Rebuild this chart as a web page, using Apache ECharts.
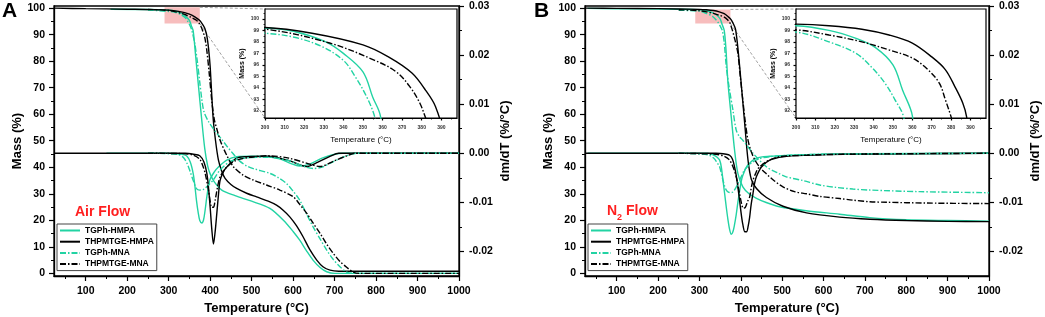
<!DOCTYPE html>
<html>
<head>
<meta charset="utf-8">
<script src="https://cdn.jsdelivr.net/npm/echarts@6/dist/echarts.min.js"></script>
<style>
html, body { margin: 0; padding: 0; background: #fff; }
#chart { width: 1045px; height: 317px; }
</style>
</head>
<body>
<div id="chart"></div>
<script>
// ---- data (temperature in °C, mass in %, dm/dT in %/°C) ----
var seriesNames = ['TGPh-HMPA', 'THPMTGE-HMPA', 'TGPh-MNA', 'THPMTGE-MNA'];

var tempTicks = [100, 200, 300, 400, 500, 600, 700, 800, 900, 1000];
var massTicks = [0, 10, 20, 30, 40, 50, 60, 70, 80, 90, 100];
var dtgTicks = [-0.02, -0.01, 0, 0.01, 0.02, 0.03];
var insetTempTicks = [300, 310, 320, 330, 340, 350, 360, 370, 380, 390];
var insetMassTicks = [92, 93, 94, 95, 96, 97, 98, 99, 100];

// zoomed region shown in the insets: [tStart, tEnd, massLow, massHigh]
var airZoomBox = [290, 375, 94.2, 100.3];
var n2ZoomBox = [290, 375, 94.2, 99.5];

// A: air flow, TG curves
var airTgTGPhHMPA = [[160,99.6],[250,99.5],[300,99.2],[315,98.9],[331,98.0],[340,97.0],[350,95.4],[355,93.2],[359,91.5],[365,82],[371,72],[379,59],[387,47],[394,40.5],[400,37.5],[410,34.5],[428,31.4],[460,29.3],[500,27.2],[544,24.5],[576,20.1],[600,15.8],[616,12.5],[632,8.6],[648,5],[665,2.2],[681,0.6],[700,0],[1000,0]];
var airTgTHPMTGEHMPA = [[25,100],[100,99.8],[200,99.6],[300,99.24],[324,98.75],[350,97.74],[363,96.7],[375,95.3],[382,93.8],[387,92.4],[392,89.5],[396,85],[400,78],[407,59],[413,50],[420,42.7],[428,38.5],[436,35.8],[450,33.5],[464,32],[488,30.2],[512,28.8],[540,27.2],[560,25.7],[576,23.8],[592,21.3],[608,18],[624,13.8],[640,9],[657,5],[672,2.5],[689,1.2],[710,0.8],[1000,0.8]];
var airTgTGPhMNA = [[250,99.3],[300,98.75],[315,98.4],[329,97.6],[340,96.4],[346,95],[352,93.2],[356,91.5],[363,86.5],[369,80],[375,72],[380,65.5],[385,61],[395,57.5],[410,54],[416,52.8],[428,50.5],[440,48],[456,45],[470,42.5],[488,40.5],[504,39.5],[544,37.7],[565,36],[584,33.9],[600,31],[616,27.6],[632,22.5],[648,17.6],[665,13],[681,8.8],[697,5.2],[713,2.5],[729,0.5],[745,0],[1000,0]];
var airTgTHPMTGEMNA = [[250,99.5],[300,99.1],[333,97.9],[356,96.4],[367,95.4],[374,94.1],[379,92.7],[382,91.4],[387,89],[392,84],[398,75],[404,65],[410,58],[416,54.5],[424,50.2],[440,44.5],[456,40.2],[480,37],[504,35.2],[536,33.3],[568,31.4],[600,28.9],[616,26],[633,22.6],[648,19],[665,15.1],[681,11],[697,7.5],[713,4.5],[729,2.3],[745,0.5],[760,0],[1000,0]];

// A: air flow, DTG curves
var airDtgTGPhHMPA = [[150,0],[300,0],[330,-0.0002],[343,-0.0005],[352,-0.0018],[359,-0.0041],[363,-0.0065],[367,-0.0096],[371,-0.012],[375,-0.0137],[380,-0.0142],[384,-0.0136],[388,-0.0115],[392,-0.0089],[399,-0.0055],[410,-0.0038],[420,-0.0028],[440,-0.0014],[464,-0.0007],[500,-0.0006],[540,-0.0007],[570,-0.0012],[595,-0.0021],[615,-0.0026],[640,-0.0022],[670,-0.001],[700,-0.0002],[720,0],[1000,0]];
var airDtgTHPMTGEHMPA = [[25,0],[340,0],[360,-0.0002],[375,-0.0005],[385,-0.0018],[392,-0.0041],[396,-0.007],[400,-0.011],[404,-0.0155],[408,-0.0185],[412,-0.016],[416,-0.0123],[420,-0.0085],[424,-0.0055],[432,-0.0038],[440,-0.0028],[464,-0.001],[488,-0.0007],[540,-0.0006],[590,-0.0015],[615,-0.0023],[632,-0.0027],[660,-0.0018],[690,-0.0006],[710,0],[1000,0]];
var airDtgTGPhMNA = [[250,0],[320,-0.0002],[335,-0.0008],[345,-0.0022],[352,-0.0038],[359,-0.0055],[367,-0.0072],[375,-0.0075],[383,-0.0074],[392,-0.0068],[407,-0.0055],[424,-0.0034],[448,-0.0017],[480,-0.001],[540,-0.0008],[590,-0.0015],[630,-0.0028],[650,-0.0031],[670,-0.0028],[690,-0.002],[720,-0.0008],[755,0],[1000,0]];
var airDtgTHPMTGEMNA = [[250,0],[340,-0.0001],[360,-0.0004],[375,-0.0012],[382,-0.0025],[388,-0.0041],[396,-0.0075],[404,-0.011],[408,-0.011],[412,-0.0096],[418,-0.0068],[424,-0.0048],[440,-0.0028],[464,-0.0014],[500,-0.0008],[540,-0.0005],[590,-0.001],[640,-0.0022],[665,-0.0027],[700,-0.0015],[730,-0.0005],[750,0],[1000,0]];

// B: N2 flow, TG curves
var n2TgTGPhHMPA = [[30,99.9],[150,99.7],[250,99.6],[300,99.4],[317,99.0],[331,98.3],[341,97.5],[350,96.0],[355,93.8],[360,91.6],[364,85],[369,72],[377,59],[385,46.5],[393,37.7],[405,32.6],[420,30],[438,28.3],[460,26.8],[494,25.1],[558,23.6],[639,22.3],[712,21],[800,20.2],[900,19.9],[1000,19.7]];
var n2TgTHPMTGEHMPA = [[25,100],[100,99.9],[200,99.8],[300,99.54],[317,99.4],[334,99.1],[348,98.6],[360,97.9],[370,96.7],[377,95.6],[382,94.1],[386,92.7],[388,91.5],[393,85],[401,71.6],[409.5,56.5],[417.5,42.7],[425.5,35.5],[438,32],[462,28.6],[502,25.3],[559,22.8],[639,21.2],[712,20.4],[800,19.9],[900,19.6],[1000,19.5]];
var n2TgTGPhMNA = [[250,99.2],[300,98.85],[317,98.0],[331,97.0],[339,95.8],[346,94.4],[351,93.0],[355.5,91.5],[360,87],[365,78],[372,70],[381,61.6],[389,54],[397,51.5],[405,50.2],[430,45.2],[462,40.2],[490,37.8],[510,36.4],[550,35],[591,33.3],[631,32.4],[671,31.8],[712,31.4],[832,30.8],[1000,30.4]];
var n2TgTHPMTGEMNA = [[250,99.4],[300,99.04],[317,98.6],[334,98.0],[348,97.3],[360,96.6],[368,95.6],[374,94.4],[377,93.0],[380,91.5],[386,88],[393,83],[399,74],[405,65.3],[411,57],[417.5,50.2],[425,46],[435,42.5],[446,40],[462,37.5],[480,35],[502,32.6],[530,30.8],[559,30.0],[591,29],[639,28.2],[671,27.6],[712,27],[752,26.8],[850,26.5],[1000,26.3]];

// B: N2 flow, DTG curves
var n2DtgTGPhHMPA = [[30,0],[320,0],[333,-0.0003],[343,-0.0008],[349,-0.0014],[353,-0.0028],[357,-0.0055],[361,-0.0082],[365,-0.011],[369,-0.0135],[373,-0.0155],[377,-0.0165],[381,-0.016],[385,-0.0145],[389,-0.0125],[393,-0.01],[397,-0.0078],[401,-0.0058],[405,-0.0045],[417,-0.0024],[438,-0.001],[470,-0.0006],[520,-0.0004],[600,-0.0002],[700,-0.0001],[1000,0]];
var n2DtgTHPMTGEHMPA = [[25,0],[340,0],[365,-0.0002],[373,-0.0004],[380,-0.0012],[385,-0.0028],[389,-0.0045],[393,-0.0069],[397,-0.0095],[401,-0.0123],[405,-0.0145],[410,-0.016],[414,-0.016],[418,-0.0148],[421.5,-0.013],[425,-0.0105],[429.5,-0.0082],[433,-0.0063],[437.7,-0.0048],[450,-0.0028],[470,-0.0014],[502,-0.0007],[560,-0.0004],[650,-0.0002],[1000,0]];
var n2DtgTGPhMNA = [[250,0],[320,-0.0003],[335,-0.001],[342,-0.0018],[349,-0.0028],[357,-0.0055],[361,-0.0067],[365,-0.0075],[370,-0.0079],[375,-0.008],[381,-0.0079],[387,-0.0072],[393,-0.0062],[401,-0.0048],[409,-0.0034],[420,-0.0024],[430,-0.0017],[445,-0.0011],[470,-0.0007],[520,-0.0004],[600,-0.0002],[1000,0]];
var n2DtgTHPMTGEMNA = [[250,0],[340,-0.0002],[360,-0.0006],[372,-0.0013],[380,-0.0025],[389,-0.0048],[397,-0.0082],[402,-0.0103],[406,-0.0112],[411,-0.011],[416,-0.0099],[421.5,-0.0089],[425,-0.0072],[429.5,-0.0055],[436,-0.0041],[442,-0.0031],[462,-0.0017],[494,-0.0007],[560,-0.0004],[650,-0.0002],[1000,0]];

// ---- styling ----
var FONT = '"Liberation Sans", Arial, sans-serif';
var GREEN = '#22d3a3';
var BLACK = '#000';
var colors = [GREEN, BLACK, GREEN, BLACK];
var dashed = [false, false, true, true];
var DASH_DOT = [6, 2, 1.5, 2];

var airTg = [airTgTGPhHMPA, airTgTHPMTGEHMPA, airTgTGPhMNA, airTgTHPMTGEMNA];
var airDtg = [airDtgTGPhHMPA, airDtgTHPMTGEHMPA, airDtgTGPhMNA, airDtgTHPMTGEMNA];
var n2Tg = [n2TgTGPhHMPA, n2TgTHPMTGEHMPA, n2TgTGPhMNA, n2TgTHPMTGEMNA];
var n2Dtg = [n2DtgTGPhHMPA, n2DtgTHPMTGEHMPA, n2DtgTGPhMNA, n2DtgTHPMTGEMNA];

var mainGrid = [{ left: 54, top: 6, width: 405, height: 270 }, { left: 585, top: 6, width: 404, height: 270 }];
var insetGrid = [{ left: 265, top: 9, width: 192, height: 109 }, { left: 796, top: 9, width: 190, height: 109 }];

function tickStyle(len) {
    return { show: true, length: len, lineStyle: { color: '#000', width: 1.2 } };
}
function labelStyle(size, margin) {
    return { color: '#000', fontFamily: FONT, fontWeight: 'bold', fontSize: size, margin: margin };
}
function nameStyle(size, weight) {
    return { color: '#000', fontFamily: FONT, fontWeight: weight, fontSize: size };
}
function plain(v) { return String(v); }

function mainX(gi) {
    var tick = tickStyle(5); tick.customValues = tempTicks;
    var lab = labelStyle(10.5, 10); lab.customValues = tempTicks; lab.formatter = plain;
    return {
        gridIndex: gi, type: 'value', min: 23.5, max: 1000, splitNumber: 10,
        axisLine: { show: true, onZero: false, lineStyle: { color: '#000', width: 1.3 } },
        axisTick: tick,
        minorTick: { show: true, splitNumber: 2, length: 3, lineStyle: { color: '#000', width: 1 } },
        axisLabel: lab, splitLine: { show: false },
        name: 'Temperature (°C)', nameLocation: 'middle', nameGap: 25, nameTextStyle: nameStyle(13, 'bold')
    };
}
function mainLeftY(gi) {
    var tick = tickStyle(5); tick.customValues = massTicks;
    var lab = labelStyle(10.5, 9); lab.customValues = massTicks; lab.formatter = plain;
    return {
        gridIndex: gi, type: 'value', position: 'left', min: -1, max: 100.8, splitNumber: 10,
        axisLine: { show: true, onZero: false, lineStyle: { color: '#000', width: 1.3 } },
        axisTick: tick,
        minorTick: { show: true, splitNumber: 2, length: 3, lineStyle: { color: '#000', width: 1 } },
        axisLabel: lab, splitLine: { show: false },
        name: 'Mass (%)', nameLocation: 'middle', nameRotate: 90, nameGap: 29, nameTextStyle: nameStyle(13, 'bold')
    };
}
function mainRightY(gi) {
    var tick = tickStyle(5); tick.customValues = dtgTicks;
    var lab = labelStyle(10.5, 10); lab.customValues = dtgTicks;
    lab.formatter = function (v) { return v.toFixed(2); };
    return {
        gridIndex: gi, type: 'value', position: 'right', min: -0.025, max: 0.03, splitNumber: 5,
        axisLine: { show: true, onZero: false, lineStyle: { color: '#000', width: 1.3 } },
        axisTick: tick,
        minorTick: { show: true, splitNumber: 2, length: 3, lineStyle: { color: '#000', width: 1 } },
        axisLabel: lab, splitLine: { show: false },
        name: 'dm/dT (%/°C)', nameLocation: 'middle', nameRotate: 90, nameGap: 40, nameTextStyle: nameStyle(13, 'bold')
    };
}
function insetX(gi) {
    var tick = tickStyle(2.5); tick.customValues = insetTempTicks;
    var lab = labelStyle(5, 7); lab.customValues = insetTempTicks; lab.color = '#333'; lab.formatter = plain;
    return {
        gridIndex: gi, type: 'value', min: 300, max: 398, splitNumber: 10,
        axisLine: { show: true, onZero: false, lineStyle: { color: '#000', width: 1.2 } },
        axisTick: tick,
        minorTick: { show: true, splitNumber: 2, length: 1.5, lineStyle: { color: '#000', width: 0.8 } },
        axisLabel: lab, splitLine: { show: false },
        name: 'Temperature (°C)', nameLocation: 'middle', nameGap: 18, nameTextStyle: nameStyle(8, 'normal')
    };
}
function insetY(gi) {
    var tick = tickStyle(2.5); tick.customValues = insetMassTicks;
    var lab = labelStyle(5, 6); lab.customValues = insetMassTicks; lab.color = '#333'; lab.formatter = plain;
    return {
        gridIndex: gi, type: 'value', min: 91.4, max: 100.85, splitNumber: 9,
        axisLine: { show: true, onZero: false, lineStyle: { color: '#000', width: 1.2 } },
        axisTick: tick,
        minorTick: { show: true, splitNumber: 2, length: 1.5, lineStyle: { color: '#000', width: 0.8 } },
        axisLabel: lab, splitLine: { show: false },
        name: 'Mass (%)', nameLocation: 'middle', nameRotate: 90, nameGap: 19, nameTextStyle: nameStyle(7, 'bold')
    };
}

function lineSeries(i, data, xi, yi, smooth) {
    return {
        name: seriesNames[i], type: 'line', xAxisIndex: xi, yAxisIndex: yi, data: data,
        symbol: 'none', smooth: smooth, clip: true, silent: true, z: 3,
        lineStyle: { color: colors[i], width: 1.4, type: dashed[i] ? DASH_DOT : 'solid' },
        itemStyle: { color: colors[i] }
    };
}
function boxSeries(box, xi, yi) {
    return {
        type: 'line', xAxisIndex: xi, yAxisIndex: yi, data: [], silent: true, z: 1,
        markArea: {
            silent: true, itemStyle: { color: '#f7bdbd' },
            data: [[{ xAxis: box[0], yAxis: box[3] }, { xAxis: box[1], yAxis: box[2] }]]
        }
    };
}
function legendAt(left) {
    return {
        orient: 'vertical', left: left, top: 224, itemWidth: 20, itemHeight: 8, itemGap: 2.2,
        padding: [2, 3, 2, 2], borderColor: '#444', borderWidth: 1, selectedMode: false,
        itemStyle: { opacity: 0 },
        textStyle: { fontFamily: FONT, fontSize: 8.5, fontWeight: 'bold', color: '#000' },
        data: seriesNames
    };
}

// axis index layout: x [mainA, insetA, mainB, insetB]; y [mainA-L, mainA-R, insetA, mainB-L, mainB-R, insetB]
var series = [boxSeries(airZoomBox, 0, 0), boxSeries(n2ZoomBox, 2, 3)];
for (var i = 0; i < 4; i++) {
    series.push(lineSeries(i, airTg[i], 0, 0, 0.3));
    series.push(lineSeries(i, airDtg[i], 0, 1, 0.3));
    series.push(lineSeries(i, airTg[i], 1, 2, 0.35));
    series.push(lineSeries(i, n2Tg[i], 2, 3, 0.3));
    series.push(lineSeries(i, n2Dtg[i], 2, 4, 0.3));
    series.push(lineSeries(i, n2Tg[i], 3, 5, 0.35));
}

var gridOpt = [mainGrid[0], insetGrid[0], mainGrid[1], insetGrid[1]].map(function (g, k) {
    var inset = (k % 2 === 1);
    return {
        left: g.left, top: g.top, width: g.width, height: g.height, show: true,
        outerBoundsMode: 'none', containLabel: false,
        borderColor: '#000', borderWidth: inset ? 1.2 : 1.3,
        backgroundColor: inset ? '#fff' : 'transparent', z: inset ? 2 : 0
    };
});

var chart = echarts.init(document.getElementById('chart'), null, { renderer: 'canvas' });
chart.setOption({
    animation: false,
    backgroundColor: '#fff',
    grid: gridOpt,
    xAxis: [mainX(0), insetX(1), mainX(2), insetX(3)],
    yAxis: [mainLeftY(0), mainRightY(0), insetY(1), mainLeftY(2), mainRightY(2), insetY(3)],
    legend: [legendAt(57), legendAt(588)],
    series: series
});

// connector lines from the shaded box to the inset corners
function connectors(box, mx, my, ix, iy) {
    var a = chart.convertToPixel({ xAxisIndex: mx, yAxisIndex: my }, [box[1], box[3]]);
    var b = chart.convertToPixel({ xAxisIndex: mx, yAxisIndex: my }, [box[1], box[2]]);
    var c = chart.convertToPixel({ xAxisIndex: ix, yAxisIndex: iy }, [300, 100.85]);
    var d = chart.convertToPixel({ xAxisIndex: ix, yAxisIndex: iy }, [300, 91.4]);
    var st = { stroke: '#8a8a8a', lineWidth: 0.8, lineDash: [3, 2] };
    return [
        { type: 'line', silent: true, z: 1, shape: { x1: a[0], y1: a[1], x2: c[0], y2: c[1] }, style: st },
        { type: 'line', silent: true, z: 1, shape: { x1: b[0], y1: b[1], x2: d[0], y2: d[1] }, style: st }
    ];
}

var txt = function (text, left, top, size, fill) {
    return { type: 'text', left: left, top: top, silent: true, z: 10,
        style: { text: text, fontFamily: FONT, fontWeight: 'bold', fontSize: size, fill: fill || '#000' } };
};

var graphics = [
    txt('A', 2, 1, 21),
    txt('B', 534, 1, 21),
    txt('Air Flow', 75, 205, 14, '#ff1f1f'),
    txt('N', 607, 204, 14, '#ff1f1f'),
    txt('2', 617, 213, 9, '#ff1f1f'),
    txt('Flow', 626, 204, 14, '#ff1f1f')
].concat(connectors(airZoomBox, 0, 0, 1, 2), connectors(n2ZoomBox, 2, 3, 3, 5));

chart.setOption({ graphic: graphics });
</script>
</body>
</html>
